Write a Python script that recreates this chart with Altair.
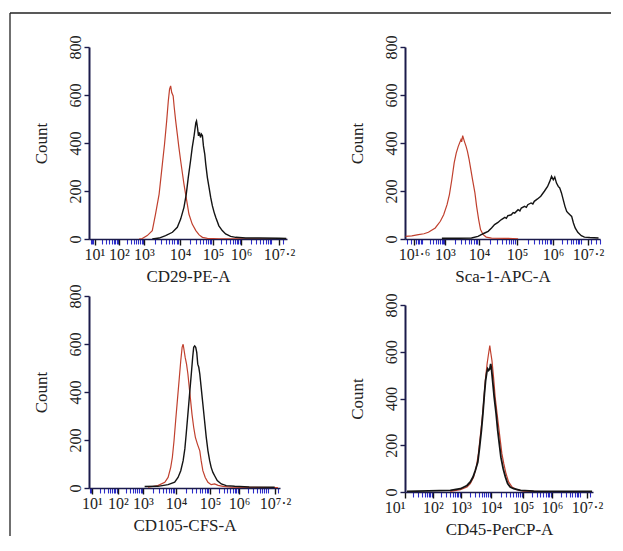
import math
import json
import pandas as pd
import altair as alt

FONT = "Liberation Serif"
RED = "#c0402e"
BLACK = "#141414"
TICK_BLUE = "#2d2dc8"
AXIS_NAVY = "#1b1b4b"

# ---------------- data: x = log10(fluorescence), y = event count ----------------
cd29_red_x = [2.80, 2.93, 3.09, 3.23, 3.32, 3.42, 3.51, 3.57, 3.63, 3.675, 3.71, 3.74, 3.77, 3.81, 3.84, 3.88,
              3.925, 3.97, 4.02, 4.07, 4.12, 4.17, 4.22, 4.27, 4.37, 4.48, 4.58, 4.68, 4.83, 5.21, 6.36, 7.40]
cd29_red_y = [0, 2, 14, 35, 104, 187, 312, 395, 492, 575, 624, 638, 610, 596, 548, 492,
              437, 381, 326, 277, 229, 187, 146, 104, 62, 35, 17, 7, 3, 1, 1, 0]
cd29_blk_x = [3.23, 3.42, 3.60, 3.79, 3.925, 4.02, 4.12, 4.19, 4.25, 4.32, 4.37, 4.42, 4.48, 4.50, 4.53, 4.56,
              4.59, 4.62, 4.65, 4.68, 4.71, 4.75, 4.78, 4.83, 4.88, 4.93, 4.98, 5.04, 5.10, 5.21, 5.33, 5.45,
              5.63, 5.81, 6.15, 6.57, 7.20, 7.40]
cd29_blk_y = [0, 4, 14, 28, 49, 83, 132, 187, 256, 326, 381, 423, 485, 492, 464, 430,
              444, 423, 437, 430, 388, 354, 312, 256, 215, 173, 139, 111, 90, 55, 35, 21,
              11, 7, 4, 4, 3, 2]

sca_red_x = [1.22, 1.50, 1.80, 2.05, 2.25, 2.56, 2.79, 2.94, 3.06, 3.13, 3.20, 3.27, 3.33, 3.39, 3.47, 3.49,
             3.52, 3.57, 3.62, 3.66, 3.71, 3.76, 3.81, 3.88, 3.93, 3.99, 4.04, 4.11, 4.19, 4.33, 4.68, 5.03]
sca_red_y = [11, 13, 18, 22, 28, 46, 74, 101, 143, 185, 247, 317, 358, 386, 414, 405,
             431, 407, 386, 365, 331, 289, 247, 192, 136, 81, 39, 18, 8, 4, 3, 1]
sca_blk_x = [2.86, 3.39, 3.78, 3.97, 4.06, 4.15, 4.24, 4.33, 4.41, 4.50, 4.55, 4.59, 4.68, 4.72, 4.76, 4.85,
             4.90, 4.94, 5.03, 5.08, 5.12, 5.21, 5.26, 5.30, 5.39, 5.44, 5.48, 5.57, 5.66, 5.76, 5.85, 5.91,
             5.96, 6.01, 6.06, 6.12, 6.18, 6.23, 6.29, 6.35, 6.41, 6.47, 6.52, 6.58, 6.64, 6.70, 6.76, 6.85,
             6.97, 7.08, 7.26, 7.56]
sca_blk_y = [3, 3, 4, 11, 18, 25, 32, 46, 60, 69, 76, 81, 90, 86, 97, 101,
             110, 108, 122, 117, 129, 136, 132, 143, 150, 146, 157, 167, 178, 199, 219, 240,
             261, 247, 258, 233, 219, 213, 192, 164, 136, 115, 108, 101, 94, 67, 46, 28,
             14, 8, 6, 4]

cd105_red_x = [3.15, 3.45, 3.66, 3.76, 3.84, 3.89, 3.94, 3.99, 4.04, 4.09, 4.14, 4.18, 4.21, 4.24, 4.27, 4.31,
               4.35, 4.39, 4.43, 4.47, 4.52, 4.57, 4.63, 4.70, 4.74, 4.79, 4.86, 4.94, 5.04, 5.16, 5.28, 5.45,
               5.73, 6.34, 7.30]
cd105_red_y = [3, 10, 24, 44, 86, 128, 197, 281, 364, 447, 530, 586, 599, 572, 544, 516,
               475, 419, 364, 308, 253, 211, 183, 155, 114, 72, 44, 24, 14, 17, 11, 7,
               4, 3, 2]
cd105_blk_x = [3.05, 3.45, 3.76, 3.96, 4.06, 4.14, 4.21, 4.26, 4.30, 4.35, 4.40, 4.45, 4.49, 4.52, 4.55, 4.58,
               4.61, 4.64, 4.67, 4.70, 4.74, 4.79, 4.84, 4.89, 4.94, 4.99, 5.04, 5.10, 5.16, 5.25, 5.39, 5.56,
               5.85, 6.34, 7.19]
cd105_blk_y = [6, 7, 14, 24, 44, 72, 114, 163, 225, 308, 392, 475, 544, 586, 592, 586,
               565, 516, 503, 475, 419, 350, 280, 211, 155, 114, 86, 65, 51, 31, 17, 10,
               7, 4, 3]

cd45_red_x = [2.62, 2.98, 3.20, 3.31, 3.42, 3.51, 3.58, 3.64, 3.70, 3.76, 3.81, 3.87, 3.91, 3.96, 3.99, 4.03,
              4.08, 4.13, 4.19, 4.24, 4.29, 4.34, 4.40, 4.47, 4.55, 4.66, 4.81, 5.02, 5.37, 5.94, 7.09]
cd45_red_y = [3, 10, 21, 36, 64, 107, 164, 235, 306, 391, 477, 548, 584, 626, 598, 562,
              491, 406, 335, 278, 221, 164, 121, 78, 43, 21, 10, 4, 3, 1, 1]
cd45_blk_x = [1.07, 2.62, 2.98, 3.20, 3.31, 3.40, 3.48, 3.56, 3.62, 3.68, 3.73, 3.78, 3.82, 3.86, 3.89, 3.92,
              3.96, 3.99, 4.02, 4.05, 4.10, 4.16, 4.21, 4.26, 4.31, 4.38, 4.45, 4.52, 4.60, 4.71, 4.92, 5.37,
              6.14, 7.37]
cd45_blk_y = [3, 7, 14, 28, 43, 64, 93, 128, 192, 263, 335, 420, 477, 512, 527, 520,
              527, 548, 520, 477, 406, 335, 263, 206, 149, 100, 64, 36, 21, 14, 7, 4,
              3, 3]

panel_titles = ["CD29-PE-A", "Sca-1-APC-A", "CD105-CFS-A", "CD45-PerCP-A"]
y_ticks = [0, 200, 400, 600, 800]
majors_std = [1, 2, 3, 4, 5, 6, 7.2]
labels_std = ["10¹", "10²", "10³", "10⁴", "10⁵", "10⁶", "10⁷·²"]
majors_sca = [1.6, 3, 4, 5, 6, 7.2]
labels_sca = ["10¹·⁶", "10³", "10⁴", "10⁵", "10⁶", "10⁷·²"]


def panel(title, rx, ry, bx, by, dom, rng, majors, labels, w, h, yrng,
          bw=1.4, first_right=False, frame=False):
    minors = []
    for n in range(0, 8):
        for k in range(2, 10):
            v = round(n + math.log10(k), 4)
            if dom[0] <= v <= dom[-1] and all(abs(v - m) > 0.03 for m in majors):
                minors.append(v)
    values = sorted(list(majors) + minors)
    expr = " : ".join(f"datum.value == {m} ? '{l}'" for m, l in zip(majors, labels)) + " : ''"
    is_major = f"indexof({json.dumps(majors)}, datum.value) >= 0"
    if first_right:
        lalign = {"condition": {"test": f"datum.value == {majors[0]}", "value": "right"}, "value": "center"}
    else:
        lalign = "center"
    xaxis = alt.Axis(
        values=values, labelExpr=expr, title=title, grid=False,
        labelOverlap=False, labelFlush=False, labelAlign=lalign, labelFontSize=16,
        tickColor={"condition": {"test": is_major, "value": BLACK}, "value": TICK_BLUE},
        tickSize={"condition": {"test": is_major, "value": 6}, "value": 5},
        tickWidth={"condition": {"test": is_major, "value": 1.4}, "value": 1.1},
        domainColor=AXIS_NAVY, domainWidth=1.6, labelPadding=1, titlePadding=6,
    )
    yaxis = alt.Axis(
        values=y_ticks, title="Count", grid=False, labelAngle=270,
        labelAlign="center", labelBaseline="bottom", labelFontSize=16,
        tickSize=5, tickWidth=1.4, tickColor=AXIS_NAVY,
        domainColor=AXIS_NAVY, domainWidth=2, labelPadding=1, titlePadding=17,
    )
    x = alt.X("logv:Q", scale=alt.Scale(domain=dom, range=rng, nice=False, zero=False), axis=xaxis)
    y = alt.Y("count:Q", scale=alt.Scale(domain=[0, 800], range=yrng, nice=False, zero=False), axis=yaxis)
    red = alt.Chart(pd.DataFrame({"logv": rx, "count": ry})).mark_line(
        color=RED, strokeWidth=1.2, clip=True).encode(x=x, y=y)
    blk = alt.Chart(pd.DataFrame({"logv": bx, "count": by})).mark_line(
        color=BLACK, strokeWidth=bw, clip=True).encode(x=x, y=y)
    layers = [red, blk]
    if frame:
        fdf = pd.DataFrame({"k": [0]})
        layers.append(alt.Chart(fdf).mark_rule(color="#222222", strokeWidth=1.3).encode(
            x=alt.value(-79), y=alt.value(-34), y2=alt.value(489)))
        layers.append(alt.Chart(fdf).mark_rule(color="#222222", strokeWidth=1.3).encode(
            x=alt.value(-79), x2=alt.value(522), y=alt.value(-34)))
    return alt.layer(*layers).properties(width=w, height=h)


p1 = panel(panel_titles[0], cd29_red_x, cd29_red_y, cd29_blk_x, cd29_blk_y,
           [0.78, 1, 2, 3, 4, 5, 6, 7.2, 7.42], [0, 5.5, 30, 55, 91, 124, 152, 190, 198],
           majors_std, labels_std, 198, 192, [192, 0], frame=True)
p2 = panel(panel_titles[1], sca_red_x, sca_red_y, sca_blk_x, sca_blk_y,
           [1.19, 1.6, 3, 4, 5, 6, 7.2, 7.61], [0, 9, 40, 74, 112, 148, 183, 195],
           majors_sca, labels_sca, 195, 192, [192, 0])
p3 = panel(panel_titles[2], cd105_red_x, cd105_red_y, cd105_blk_x, cd105_blk_y,
           [0.88, 1, 2, 3, 4, 5, 6, 7.2, 7.37], [0, 3, 29, 54, 87, 121, 150, 186, 191],
           majors_std, labels_std, 191, 192, [192, 0])
p4 = panel(panel_titles[3], cd45_red_x, cd45_red_y, cd45_blk_x, cd45_blk_y,
           [1, 2, 3, 4, 5, 6, 7.2, 7.4], [0, 28, 56, 86, 118, 147, 182, 188],
           majors_std, labels_std, 188, 196, [196, 9], bw=1.8, first_right=True)

chart = alt.concat(
    p1, p2, p3, p4, columns=2, spacing={"row": 57, "column": 118}, bounds="flush"
).properties(
    padding={"left": 0, "top": 3, "right": 0, "bottom": 0}
).configure_axis(
    labelFont=FONT, titleFont=FONT, labelFontSize=16, titleFontSize=17,
    titleFontWeight="normal", labelColor="#222222", titleColor="#222222",
).configure_view(stroke="transparent")

chart.save("out.html", embed_options={"renderer": "svg", "actions": False})
